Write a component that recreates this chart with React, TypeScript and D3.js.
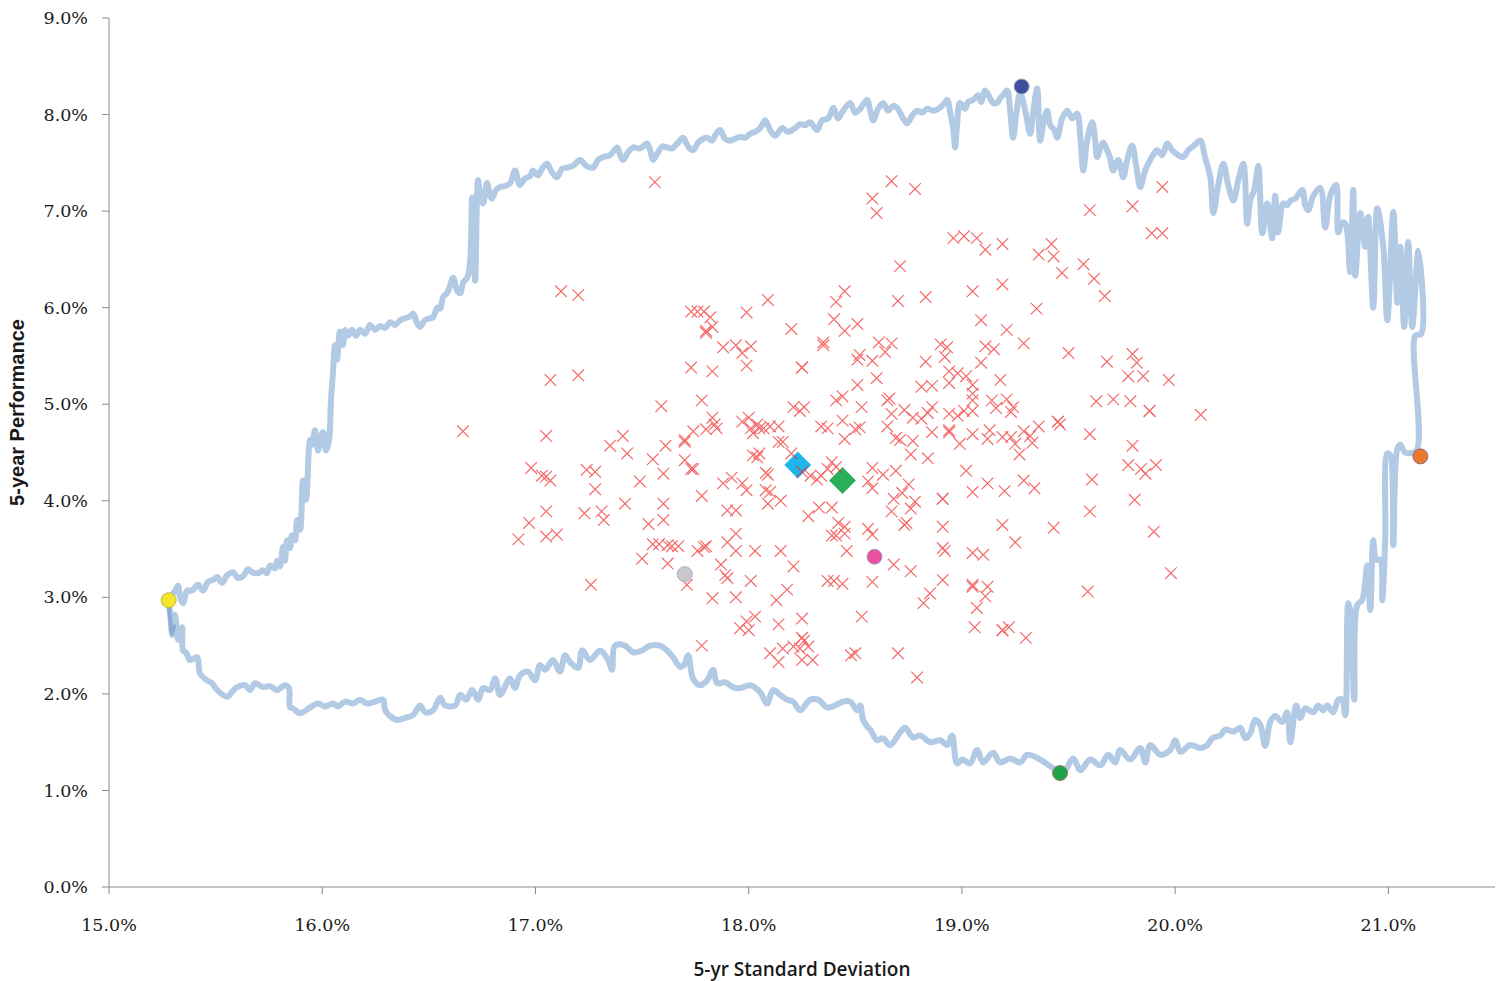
import React from 'react';
import * as d3 from 'd3';

type P = [number, number];

const xTicks = [15, 16, 17, 18, 19, 20, 21];
const yTicks = [0, 1, 2, 3, 4, 5, 6, 7, 8, 9];

// Frontier boundary (std dev %, 5-yr performance %) — upper edge, left to right
const frontierUpper: P[] = [
  [15.277,2.97],[15.310,3.07],[15.324,3.12],[15.333,3.00],[15.347,2.94],[15.366,3.07],[15.389,3.07],[15.418,3.13],[15.441,3.07],[15.464,3.16],[15.488,3.18],[15.507,3.21],[15.530,3.15],[15.554,3.23],[15.582,3.26],[15.605,3.20],[15.629,3.22],[15.652,3.29],[15.671,3.26],[15.699,3.25],[15.722,3.28],[15.741,3.25],[15.755,3.33],[15.779,3.30],[15.788,3.38],[15.802,3.32],[15.816,3.52],[15.825,3.38],[15.835,3.59],[15.849,3.51],[15.858,3.64],[15.872,3.59],[15.882,3.80],[15.896,3.70],[15.910,4.21],[15.924,4.01],[15.943,4.63],[15.952,4.58],[15.966,4.73],[15.980,4.52],[15.990,4.63],[16.004,4.71],[16.018,4.52],[16.032,4.63],[16.041,5.04],[16.051,5.35],[16.060,5.61],[16.069,5.46],[16.083,5.75],[16.097,5.61],[16.107,5.77],[16.121,5.71],[16.140,5.77],[16.158,5.71],[16.177,5.77],[16.201,5.73],[16.224,5.82],[16.248,5.77],[16.271,5.81],[16.295,5.79],[16.318,5.85],[16.342,5.82],[16.365,5.87],[16.388,5.89],[16.412,5.91],[16.426,5.94],[16.445,5.84],[16.459,5.80],[16.482,5.87],[16.506,5.89],[16.520,5.90],[16.539,6.00],[16.553,5.99],[16.567,6.11],[16.585,6.15],[16.600,6.23],[16.614,6.31],[16.632,6.18],[16.647,6.15],[16.661,6.26],[16.680,6.31],[16.694,6.49],[16.703,7.14],[16.717,6.28],[16.731,7.32],[16.745,7.11],[16.754,7.08],[16.773,7.29],[16.787,7.16],[16.796,7.13],[16.815,7.22],[16.834,7.25],[16.857,7.26],[16.881,7.29],[16.904,7.42],[16.918,7.32],[16.927,7.27],[16.951,7.34],[16.974,7.36],[16.988,7.42],[17.012,7.37],[17.031,7.44],[17.054,7.49],[17.078,7.40],[17.101,7.35],[17.125,7.44],[17.148,7.45],[17.176,7.47],[17.209,7.53],[17.237,7.47],[17.270,7.45],[17.294,7.53],[17.317,7.56],[17.350,7.58],[17.383,7.66],[17.397,7.58],[17.411,7.53],[17.434,7.61],[17.458,7.66],[17.491,7.65],[17.523,7.70],[17.538,7.63],[17.552,7.53],[17.575,7.61],[17.594,7.67],[17.617,7.66],[17.641,7.65],[17.669,7.71],[17.692,7.76],[17.716,7.67],[17.739,7.63],[17.763,7.71],[17.786,7.75],[17.805,7.76],[17.828,7.73],[17.847,7.80],[17.866,7.84],[17.889,7.75],[17.913,7.73],[17.960,7.77],[17.983,7.76],[18.007,7.80],[18.030,7.82],[18.054,7.86],[18.077,7.94],[18.100,7.84],[18.124,7.78],[18.157,7.86],[18.185,7.82],[18.218,7.86],[18.241,7.90],[18.265,7.89],[18.288,7.92],[18.321,7.84],[18.344,7.94],[18.373,7.96],[18.396,8.07],[18.419,7.96],[18.443,8.04],[18.476,8.12],[18.499,8.02],[18.523,8.06],[18.555,8.15],[18.570,8.04],[18.584,7.94],[18.607,8.06],[18.631,8.12],[18.654,8.04],[18.678,8.09],[18.696,8.07],[18.710,8.02],[18.724,7.96],[18.743,7.91],[18.767,7.99],[18.790,8.04],[18.814,8.02],[18.837,8.06],[18.865,8.04],[18.889,8.06],[18.912,8.10],[18.931,8.15],[18.945,8.02],[18.959,7.86],[18.968,7.66],[18.977,7.89],[18.991,8.12],[19.015,8.06],[19.029,8.13],[19.052,8.15],[19.076,8.20],[19.090,8.13],[19.109,8.25],[19.132,8.17],[19.146,8.12],[19.165,8.12],[19.179,8.17],[19.193,8.20],[19.212,8.25],[19.226,8.04],[19.240,7.76],[19.254,7.99],[19.273,8.22],[19.297,8.04],[19.320,7.80],[19.334,8.02],[19.353,8.27],[19.367,7.73],[19.386,7.96],[19.400,8.04],[19.414,7.89],[19.433,7.84],[19.447,7.76],[19.470,7.96],[19.494,8.04],[19.517,7.96],[19.540,8.01],[19.555,7.78],[19.569,7.42],[19.587,7.73],[19.611,7.92],[19.625,7.73],[19.634,7.56],[19.649,7.65],[19.662,7.71],[19.681,7.63],[19.695,7.55],[19.709,7.42],[19.733,7.53],[19.756,7.35],[19.775,7.53],[19.798,7.68],[19.817,7.47],[19.836,7.25],[19.859,7.42],[19.883,7.53],[19.897,7.58],[19.916,7.63],[19.939,7.58],[19.963,7.70],[19.986,7.63],[20.014,7.58],[20.038,7.56],[20.061,7.63],[20.089,7.68],[20.118,7.73],[20.141,7.55],[20.165,7.35],[20.179,6.98],[20.202,7.27],[20.226,7.49],[20.249,7.27],[20.273,7.11],[20.296,7.32],[20.320,7.49],[20.338,6.87],[20.352,7.11],[20.371,7.22],[20.390,7.47],[20.409,6.77],[20.432,7.08],[20.455,6.72],[20.469,7.16],[20.483,6.78],[20.507,7.08],[20.525,7.06],[20.540,7.11],[20.563,7.13],[20.596,7.22],[20.610,7.06],[20.624,7.01],[20.648,7.16],[20.680,7.24],[20.704,6.83],[20.727,7.16],[20.755,7.27],[20.765,6.78],[20.783,6.88],[20.798,6.87],[20.821,6.37],[20.835,7.22],[20.845,6.33],[20.868,6.98],[20.891,6.63],[20.905,6.94],[20.929,6.00],[20.948,7.03],[20.976,6.63],[20.995,5.87],[21.023,6.99],[21.042,6.05],[21.056,6.63],[21.074,5.80],[21.093,6.68],[21.112,5.80],[21.140,6.59],[21.154,5.73],[21.126,5.71],[21.131,4.52]
];

// Frontier boundary — lower edge, right to left
const frontierLower: P[] = [
  [21.079,4.50],[21.056,4.58],[21.042,4.54],[21.023,3.54],[21.009,4.47],[20.995,4.49],[20.985,3.59],[20.971,2.97],[20.962,3.39],[20.943,3.39],[20.929,3.59],[20.915,2.87],[20.901,3.33],[20.877,2.97],[20.854,2.92],[20.840,1.94],[20.821,2.87],[20.812,2.94],[20.798,1.78],[20.783,1.94],[20.765,1.94],[20.741,1.81],[20.713,1.88],[20.694,1.83],[20.671,1.88],[20.648,1.81],[20.610,1.85],[20.587,1.75],[20.568,1.88],[20.540,1.50],[20.525,1.81],[20.502,1.71],[20.469,1.77],[20.446,1.71],[20.422,1.46],[20.399,1.68],[20.375,1.73],[20.352,1.59],[20.329,1.54],[20.305,1.65],[20.273,1.61],[20.235,1.63],[20.212,1.57],[20.174,1.54],[20.151,1.47],[20.118,1.44],[20.071,1.47],[20.024,1.40],[20.000,1.52],[19.977,1.42],[19.930,1.37],[19.883,1.47],[19.860,1.29],[19.836,1.44],[19.789,1.32],[19.742,1.42],[19.719,1.29],[19.686,1.37],[19.649,1.26],[19.602,1.32],[19.555,1.21],[19.522,1.33],[19.484,1.21],[19.461,1.19],[19.428,1.23],[19.367,1.32],[19.306,1.37],[19.273,1.29],[19.226,1.33],[19.179,1.29],[19.146,1.39],[19.099,1.29],[19.071,1.42],[19.038,1.28],[19.001,1.32],[18.977,1.28],[18.954,1.57],[18.931,1.47],[18.898,1.52],[18.851,1.50],[18.804,1.57],[18.771,1.55],[18.733,1.65],[18.710,1.60],[18.663,1.47],[18.630,1.54],[18.602,1.52],[18.570,1.63],[18.556,1.66],[18.537,1.73],[18.523,1.88],[18.509,1.83],[18.476,1.92],[18.443,1.92],[18.405,1.88],[18.368,1.86],[18.326,1.94],[18.288,1.94],[18.241,1.83],[18.208,1.92],[18.180,1.94],[18.147,1.99],[18.114,2.04],[18.086,1.90],[18.053,2.02],[18.007,2.09],[17.960,2.06],[17.927,2.07],[17.889,2.12],[17.852,2.11],[17.833,2.25],[17.805,2.14],[17.772,2.09],[17.739,2.16],[17.716,2.40],[17.697,2.30],[17.678,2.28],[17.645,2.38],[17.617,2.45],[17.584,2.50],[17.538,2.50],[17.500,2.45],[17.458,2.43],[17.420,2.50],[17.373,2.50],[17.359,2.25],[17.341,2.35],[17.303,2.45],[17.256,2.35],[17.219,2.45],[17.200,2.27],[17.162,2.33],[17.139,2.40],[17.115,2.23],[17.082,2.35],[17.045,2.25],[17.021,2.30],[16.998,2.14],[16.965,2.23],[16.927,2.19],[16.904,2.06],[16.881,2.16],[16.834,1.99],[16.811,2.16],[16.787,2.04],[16.754,2.06],[16.731,1.94],[16.703,2.04],[16.675,1.94],[16.647,1.99],[16.623,1.88],[16.576,1.88],[16.553,1.96],[16.520,1.83],[16.482,1.81],[16.459,1.88],[16.426,1.78],[16.388,1.75],[16.351,1.73],[16.318,1.77],[16.295,1.83],[16.285,1.94],[16.248,1.92],[16.210,1.90],[16.177,1.94],[16.144,1.90],[16.107,1.92],[16.074,1.87],[16.051,1.90],[16.013,1.87],[15.980,1.90],[15.943,1.86],[15.896,1.80],[15.863,1.85],[15.849,1.86],[15.844,2.06],[15.825,2.09],[15.788,2.04],[15.755,2.08],[15.722,2.07],[15.685,2.11],[15.661,2.04],[15.638,2.09],[15.600,2.07],[15.577,2.02],[15.554,1.97],[15.507,2.04],[15.483,2.11],[15.460,2.14],[15.427,2.21],[15.413,2.38],[15.380,2.35],[15.361,2.43],[15.347,2.45],[15.343,2.69],[15.324,2.56],[15.310,2.82],[15.300,2.66],[15.296,2.61],[15.286,2.85],[15.277,2.97]
];

// Short overlapping hook at the minimum-risk end
const frontierHook: P[] = [[15.277,2.97],[15.286,2.80],[15.296,2.62],[15.305,2.70]];

// Individual funds (std dev %, performance %)
const funds: P[] = [
  [18.67,7.31],[18.78,7.23],[18.58,7.13],[18.60,6.98],[19.94,7.25],[19.60,7.01],[19.80,7.05],[19.89,6.77],[19.94,6.77],
  [18.96,6.72],[19.01,6.74],[19.07,6.72],[19.11,6.60],[19.19,6.66],[19.36,6.55],[19.42,6.66],[19.43,6.53],[19.47,6.36],[19.57,6.45],[19.62,6.30],[19.67,6.12],
  [18.71,6.43],[19.19,6.24],[19.05,6.17],[18.83,6.11],[18.70,6.07],[19.35,5.99],[19.09,5.87],[19.21,5.77],[19.29,5.63],[18.51,5.83],
  [18.61,5.64],[18.67,5.63],[18.64,5.54],[18.52,5.51],[18.51,5.46],[18.58,5.45],[18.83,5.44],[18.90,5.62],[18.93,5.59],[18.92,5.49],[19.11,5.60],[19.15,5.57],[19.09,5.43],[19.50,5.53],[19.68,5.44],[19.80,5.52],[19.82,5.43],[19.78,5.29],[19.85,5.29],[19.97,5.25],
  [18.51,5.20],[18.60,5.27],[18.81,5.18],[18.86,5.19],[18.94,5.22],[18.94,5.34],[18.98,5.32],[19.02,5.29],[19.05,5.20],[19.05,5.11],[19.18,5.25],
  [18.66,5.06],[18.65,5.04],[18.53,4.97],[18.67,4.90],[18.73,4.94],[18.77,4.86],[18.81,4.85],[18.84,4.91],[18.86,4.97],[18.94,4.90],[18.98,4.88],[19.01,4.93],[19.05,5.04],[19.05,4.93],
  [19.14,5.04],[19.16,4.96],[19.21,5.05],[19.24,4.97],[19.23,4.92],[19.63,5.03],[19.71,5.05],[19.79,5.03],[19.88,4.93],[19.88,4.93],[20.12,4.89],
  [19.45,4.82],[19.45,4.82],[19.46,4.79],[19.60,4.69],[19.36,4.77],[18.52,4.76],[18.50,4.74],[18.65,4.77],[18.71,4.63],[18.69,4.65],[18.77,4.62],[18.76,4.48],[18.84,4.44],[18.86,4.71],[18.94,4.73],[18.94,4.71],[18.99,4.59],[19.05,4.69],[19.13,4.73],[19.12,4.64],
  [19.19,4.66],[19.23,4.66],[19.25,4.59],[19.27,4.48],[19.29,4.72],[19.32,4.67],[19.33,4.60],[19.80,4.57],[19.78,4.37],[19.84,4.33],[19.86,4.28],[19.91,4.37],
  [18.56,4.20],[18.58,4.13],[18.58,4.34],[18.63,4.27],[18.69,4.31],[18.72,4.08],[18.75,4.17],[18.78,3.99],[18.76,3.92],[18.74,3.77],[18.73,3.75],[18.67,3.89],[18.68,4.02],[18.91,4.02],[18.91,4.02],[19.02,4.31],[19.05,4.09],[19.12,4.18],[19.20,4.10],[19.29,4.21],[19.34,4.13],[19.61,4.22],[19.60,3.89],[19.81,4.01],[19.90,3.68],[19.98,3.25],[19.59,3.06],[19.43,3.72],[19.19,3.75],[19.25,3.57],[18.91,3.73],[18.91,3.51],[18.92,3.48],[19.05,3.46],[19.10,3.44],[18.56,3.71],[18.58,3.65],[18.68,3.34],[18.76,3.27],[18.58,3.16],[18.91,3.18],[18.85,3.04],[18.82,2.94],[19.05,3.11],[19.05,3.13],[19.12,3.11],[19.11,3.01],[19.07,2.89],[19.06,2.69],[19.19,2.66],[19.19,2.66],[19.22,2.69],[19.30,2.58],[18.53,2.80],[18.50,2.42],[18.70,2.42],[18.79,2.17],
  [17.56,7.30],[17.12,6.17],[17.20,6.13],[17.07,5.25],[17.20,5.30],[16.66,4.72],[17.05,4.67],[16.98,4.34],[17.03,4.26],[17.07,4.21],[17.05,4.25],[17.24,4.32],[17.28,4.30],[17.28,4.12],[17.05,3.89],[16.97,3.77],[16.92,3.60],[17.05,3.63],[17.10,3.65],[17.23,3.87],[17.31,3.89],[17.32,3.80],[17.26,3.13],
  [17.35,4.57],[17.41,4.67],[17.43,4.49],[17.49,4.20],[17.42,3.97],[17.55,4.43],[17.59,4.98],[17.61,4.57],[17.60,4.28],[17.53,3.76],[17.60,3.97],[17.60,3.80],[17.55,3.55],[17.58,3.55],[17.62,3.54],[17.64,3.53],[17.67,3.53],[17.50,3.40],[17.62,3.35],[17.71,3.13],
  [17.74,4.72],[17.80,4.74],[17.70,4.61],[17.70,4.63],[17.70,4.42],[17.73,4.33],[17.74,4.33],[17.78,4.05],[17.78,5.04],
  [17.73,5.96],[17.76,5.96],[17.79,5.96],[17.82,5.90],[17.83,5.80],[17.80,5.74],[17.80,5.76],[17.73,5.38],[17.83,5.34],[17.99,5.95],[18.09,6.08],[17.88,5.59],[17.94,5.61],[17.97,5.53],[18.01,5.60],[17.99,5.40],[18.20,5.78],[18.41,6.06],[18.40,5.88],[18.45,6.17],[18.45,5.76],[18.35,5.64],[18.35,5.61],[18.25,5.38],[18.25,5.38],[18.41,5.04],[18.44,5.08],[18.21,4.97],[18.24,4.93],[18.26,4.97],
  [17.83,4.86],[17.84,4.79],[17.85,4.75],[17.97,4.82],[18.00,4.86],[18.01,4.75],[18.02,4.70],[18.04,4.79],[18.05,4.75],[18.07,4.75],[18.10,4.77],[18.14,4.77],[18.16,4.61],[18.14,4.61],[18.34,4.77],[18.37,4.75],[18.44,4.83],[18.45,4.64],[18.02,4.47],[18.04,4.45],[18.05,4.49],[18.20,4.49],[18.08,4.29],[18.09,4.27],[18.25,4.30],[18.29,4.26],[18.32,4.22],[18.34,4.26],[18.37,4.33],[18.39,4.40],[18.41,4.35],
  [17.88,4.18],[17.92,4.24],[17.97,4.18],[17.99,4.11],[18.08,4.11],[18.10,4.09],[18.15,4.00],[18.09,3.97],[17.90,3.90],[17.94,3.90],[18.28,3.84],[18.33,3.93],[18.39,3.93],[18.42,3.77],[18.39,3.64],[18.41,3.64],[18.45,3.66],[18.45,3.73],
  [17.94,3.66],[17.90,3.57],[17.94,3.48],[17.87,3.34],[17.89,3.23],[17.90,3.20],[17.76,3.48],[17.79,3.52],[17.80,3.53],[18.03,3.48],[18.15,3.48],[18.21,3.32],[18.01,3.17],[17.83,2.99],[17.94,3.00],[18.18,3.08],[18.13,2.97],[18.03,2.80],[17.99,2.75],[17.96,2.68],[18.00,2.66],[18.14,2.72],[18.25,2.78],[18.25,2.58],[18.25,2.58],[18.26,2.55],[17.78,2.50],
  [18.10,2.42],[18.14,2.33],[18.16,2.47],[18.21,2.49],[18.24,2.47],[18.28,2.49],[18.25,2.35],[18.30,2.35],[18.40,3.17],[18.37,3.17],[18.44,3.14],[18.46,3.48],[18.48,2.40]
];

// Highlighted portfolios
const highlightCircles = [
  { key: 'minRisk', std: 15.28, perf: 2.97 },
  { key: 'maxReturn', std: 19.28, perf: 8.29 },
  { key: 'maxRisk', std: 21.15, perf: 4.46 },
  { key: 'minReturn', std: 19.46, perf: 1.18 },
  { key: 'grey', std: 17.70, perf: 3.24 },
  { key: 'pink', std: 18.59, perf: 3.42 },
];
const highlightDiamonds = [
  { key: 'blue', std: 18.23, perf: 4.37 },
  { key: 'green', std: 18.44, perf: 4.21 },
];

const circleFill: Record<string, string> = {
  minRisk: '#F2E52C', maxReturn: '#3E4F9E', maxRisk: '#E8792A', minReturn: '#1FA547', grey: '#C9C9CD', pink: '#EC4F9B',
};
const circleStroke: Record<string, string> = {
  minRisk: '#B9B845', maxReturn: '#9AA3B8', maxRisk: '#8E6A8C', minReturn: '#9C7A66', grey: '#A9A9C6', pink: '#98A4D2',
};
const diamondFill: Record<string, string> = { blue: '#1EB5EB', green: '#2AAE5B' };

const W = 1503, H = 981;
const PL = 109, PR = 1495, PT = 18, PB = 887;

export default function App() {
  const x = d3.scaleLinear().domain([15, 21.5]).range([PL, PR]);
  const y = d3.scaleLinear().domain([0, 9]).range([PB, PT]);
  const line = d3.line<P>().x(d => x(d[0])).y(d => y(d[1])).curve(d3.curveCatmullRom.alpha(0.5));
  const frontierPath = line([...frontierUpper, ...frontierLower]) || '';
  const hookPath = line(frontierHook) || '';
  const fmt = (v: number) => d3.format('.1f')(v) + '%';
  const s = 5.8;
  const axisColor = '#8A8A8A';
  const tickFont = 'DejaVu Serif, Liberation Serif, serif';

  return (
    <svg width={W} height={H} style={{ position: 'absolute', left: 0, top: 0, background: '#fff' }}>
      <rect x={0} y={0} width={W} height={H} fill="#fff" />
      {/* axes */}
      <line x1={PL} x2={PL} y1={PT} y2={PB} stroke={axisColor} strokeWidth={1} />
      <line x1={PL} x2={PR} y1={PB} y2={PB} stroke={axisColor} strokeWidth={1} />
      {yTicks.map(t => (
        <g key={'y' + t}>
          <line x1={PL - 7} x2={PL} y1={y(t)} y2={y(t)} stroke={axisColor} />
          <text x={88} y={y(t)} dy="0.35em" textAnchor="end" fontFamily={tickFont} fontSize={17.5} fill="#1a1a1a">{fmt(t)}</text>
        </g>
      ))}
      {xTicks.map(t => (
        <g key={'x' + t}>
          <line x1={x(t)} x2={x(t)} y1={PB} y2={PB + 7} stroke={axisColor} />
          <text x={x(t)} y={931} textAnchor="middle" fontFamily={tickFont} fontSize={17.5} fill="#1a1a1a">{fmt(t)}</text>
        </g>
      ))}
      <text x={(PL + PR) / 2} y={976} textAnchor="middle" fontFamily="Open Sans, Liberation Sans, sans-serif" fontWeight={600} fontSize={19} fill="#1a1a1a">5-yr Standard Deviation</text>
      <text transform={`translate(24,${(PT + PB) / 2 - 40}) rotate(-90)`} textAnchor="middle" fontFamily="Liberation Sans, Arial, sans-serif" fontWeight="bold" fontSize={20} fill="#1a1a1a">5-year Performance</text>

      {/* frontier */}
      <path d={frontierPath} fill="none" stroke="#B3CAE4" strokeWidth={6} strokeLinejoin="round" strokeLinecap="round" />
      <path d={hookPath} fill="none" stroke="#8BADD6" strokeWidth={4} strokeLinejoin="round" strokeLinecap="round" />

      {/* diamonds */}
      {highlightDiamonds.map(d => (
        <rect key={d.key} x={-9.5} y={-9.5} width={19} height={19} fill={diamondFill[d.key]}
          transform={`translate(${x(d.std)},${y(d.perf)}) rotate(45)`} />
      ))}

      {/* funds */}
      <g stroke="#F02A2A" strokeWidth={1.2} opacity={0.7}>
        {funds.map((d, i) => (
          <path key={i} d={`M${-s},${-s}L${s},${s}M${-s},${s}L${s},${-s}`} transform={`translate(${x(d[0])},${y(d[1])})`} />
        ))}
      </g>

      {/* circles */}
      {highlightCircles.map(c => (
        <circle key={c.key} cx={x(c.std)} cy={y(c.perf)} r={7.5} fill={circleFill[c.key]} stroke={circleStroke[c.key]} strokeWidth={1} />
      ))}
    </svg>
  );
}
